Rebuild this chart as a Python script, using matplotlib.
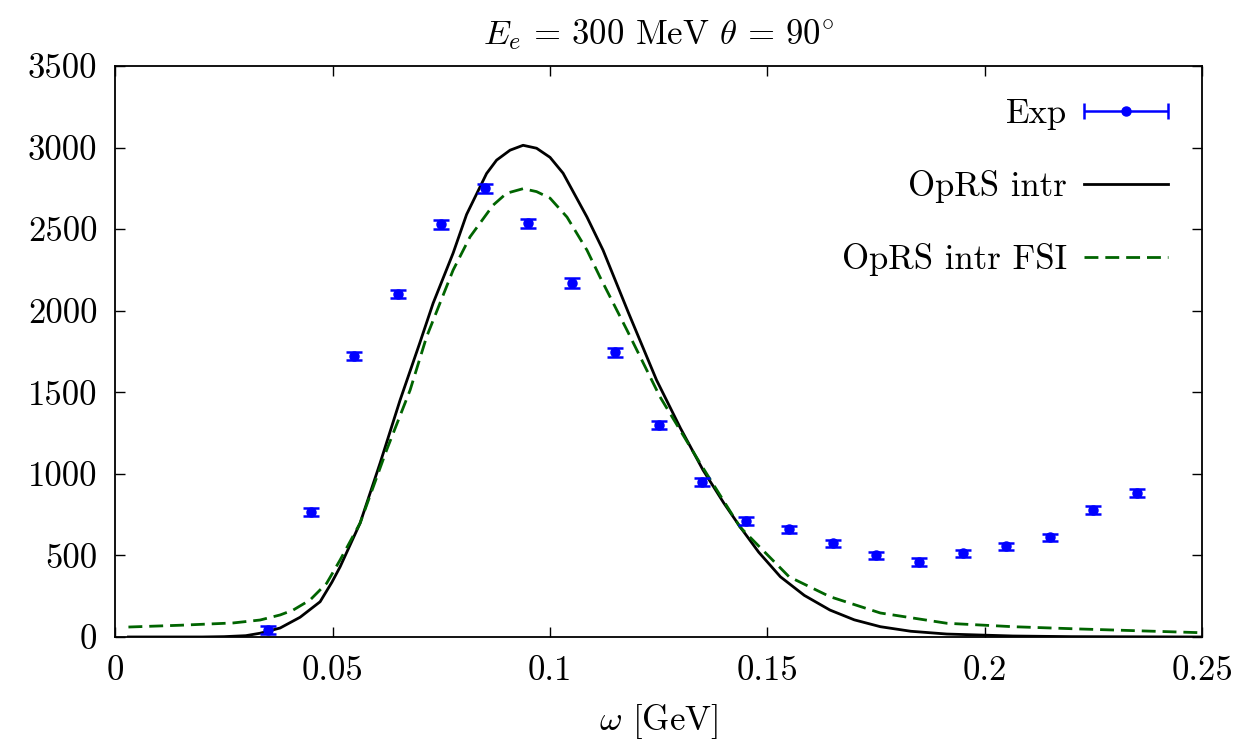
import numpy as np
import matplotlib
matplotlib.use("Agg")
import matplotlib.pyplot as plt
from matplotlib.legend_handler import HandlerErrorbar
from matplotlib.container import ErrorbarContainer

plt.rcParams['font.family'] = ['cmr10', 'DejaVu Serif']
plt.rcParams['mathtext.fontset'] = 'cm'
plt.rcParams['axes.formatter.use_mathtext'] = True

# Experimental data
exp_x = [0.035, 0.045, 0.055, 0.065, 0.075, 0.085, 0.095, 0.105, 0.115, 0.125,
         0.135, 0.145, 0.155, 0.165, 0.175, 0.185, 0.195, 0.205, 0.215, 0.225, 0.235]
exp_y = [45, 765, 1720, 2100, 2530, 2750, 2535, 2170, 1745, 1300,
         950, 710, 660, 575, 500, 460, 512, 557, 612, 778, 882]
exp_err = [25, 25, 25, 25, 28, 28, 28, 28, 28, 25,
           25, 25, 22, 22, 22, 22, 22, 22, 22, 22, 25]

# OpRS intr (solid black)
intr_x = [0.003, 0.01, 0.02, 0.025, 0.03, 0.0333, 0.0379, 0.0425, 0.0471, 0.0498,
          0.0517, 0.0563, 0.0609, 0.0655, 0.0700, 0.0731, 0.0777, 0.0808, 0.0854, 0.0877,
          0.0908, 0.0938, 0.0969, 0.100, 0.103, 0.1085, 0.1122, 0.118, 0.1245, 0.130,
          0.1352, 0.1400, 0.1437, 0.148, 0.153, 0.1585, 0.1644, 0.170, 0.176, 0.183,
          0.1913, 0.2065, 0.22, 0.235, 0.25]
intr_y = [0, 0, 0, 2, 8, 23, 55, 121, 216, 335,
          430, 698, 1066, 1452, 1800, 2046, 2353, 2590, 2841, 2923,
          2984, 3014, 2996, 2940, 2843, 2574, 2371, 1990, 1575, 1280,
          1023, 820, 676, 520, 369, 255, 165, 105, 63, 35,
          18, 6, 2, 1, 0]

# OpRS intr FSI (dashed green)
fsi_x = [0.003, 0.015, 0.0271, 0.0333, 0.0379, 0.0409, 0.0448, 0.0486, 0.0517, 0.0563,
         0.0624, 0.0678, 0.0716, 0.0777, 0.0816, 0.0869, 0.0900, 0.0938, 0.0969, 0.1000,
         0.1039, 0.1085, 0.1115, 0.1177, 0.1253, 0.1345, 0.1437, 0.155, 0.1644, 0.176,
         0.1913, 0.2065, 0.2219, 0.25]
fsi_y = [61, 72, 86, 104, 135, 165, 227, 329, 472, 698,
         1146, 1513, 1840, 2249, 2453, 2647, 2720, 2748, 2730, 2690,
         2574, 2371, 2206, 1881, 1472, 1066, 674, 369, 247, 147,
         84, 63, 49, 26]

xticks = [0, 0.05, 0.1, 0.15, 0.2, 0.25]
xticklabels = ["0", "0.05", "0.1", "0.15", "0.2", "0.25"]
yticks = [0, 500, 1000, 1500, 2000, 2500, 3000, 3500]
yticklabels = [str(v) for v in yticks]

FS = 25

fig = plt.figure(figsize=(12.53, 7.45), dpi=100)
ax = fig.add_axes([0.0921, 0.145, 0.8672, 0.7664])

green = '#006400'
ax.plot(intr_x, intr_y, color='black', lw=2.0, label='OpRS intr', zorder=3)
ax.plot(fsi_x, fsi_y, color=green, lw=2.0, dashes=(5, 2.5), label='OpRS intr FSI', zorder=3)
ax.errorbar(exp_x, exp_y, yerr=exp_err, fmt='o', color='blue', ms=6.5,
            capsize=5.5, capthick=1.8, elinewidth=1.8, zorder=4)

# proxy for gnuplot-style legend entry (horizontal bar with caps)
proxy = ax.errorbar([0.5], [-1000], xerr=[0.01], fmt='o', color='blue', ms=6.5,
                    capsize=5.5, capthick=1.8, elinewidth=1.8)

ax.set_xlim(0, 0.25)
ax.set_ylim(0, 3500)
ax.set_xticks(xticks)
ax.set_xticklabels(xticklabels)
ax.set_yticks(yticks)
ax.set_yticklabels(yticklabels)
ax.tick_params(direction='in', length=7, width=1.0, top=True, right=True,
               labelsize=FS, pad=13)
for s in ax.spines.values():
    s.set_linewidth(1.3)

ax.set_xlabel(r'$\omega$ [GeV]', fontsize=FS, labelpad=11)
ax.set_title(r'$E_e\,=\,300$ MeV $\theta\,=\,90^{\circ}$', fontsize=FS, pad=16)

h, l = ax.get_legend_handles_labels()
handles = [proxy, h[0], h[1]]
labels = ['Exp', 'OpRS intr', 'OpRS intr FSI']
leg = ax.legend(handles, labels, loc='upper right', bbox_to_anchor=(0.932, 0.868),
                bbox_transform=fig.transFigure, frameon=False, fontsize=FS,
                markerfirst=False, handlelength=2.4, handletextpad=0.5,
                labelspacing=1.15, borderpad=0, borderaxespad=0,
                handler_map={ErrorbarContainer: HandlerErrorbar(xerr_size=1.2)})

fig.savefig('out.png', dpi=100)
